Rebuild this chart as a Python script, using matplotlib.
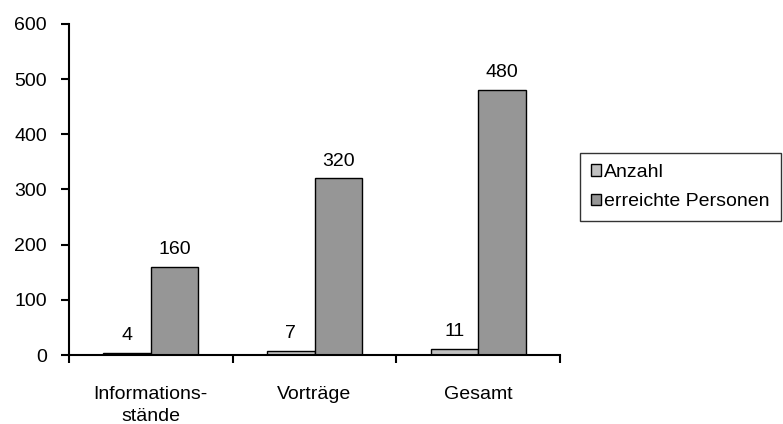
import numpy as np
import matplotlib.pyplot as plt

plt.rcParams['font.family'] = ['Liberation Sans', 'DejaVu Sans']

categories = ['Informations-\nstände', 'Vorträge', 'Gesamt']
anzahl = [4, 7, 11]
personen = [160, 320, 480]
yticks = [0, 100, 200, 300, 400, 500, 600]

W, H = 783, 424
fig = plt.figure(figsize=(W / 100, H / 100), dpi=100)
ax = fig.add_axes([69 / W, 1 - 355 / H, (560 - 69) / W, (355 - 24) / H])

fs = 14
x = np.arange(len(categories))
bw = 0.29
b1 = ax.bar(x - bw / 2, anzahl, bw, color='#c0c0c0', edgecolor='black', linewidth=1, label='Anzahl')
b2 = ax.bar(x + bw / 2, personen, bw, color='#969696', edgecolor='black', linewidth=1, label='erreichte Personen')

for xi, v in zip(x, anzahl):
    ax.text(xi - bw / 2, v + 16, str(v), ha='center', va='bottom', fontsize=fs)
for xi, v in zip(x, personen):
    ax.text(xi + bw / 2, v + 16, str(v), ha='center', va='bottom', fontsize=fs)

ax.set_xlim(-0.5, len(categories) - 0.5)
ax.set_ylim(0, 600)
ax.set_yticks(yticks)
ax.set_yticklabels([str(t) for t in yticks], fontsize=fs)
ax.set_xticks(x)
ax.set_xticklabels(categories, fontsize=fs, linespacing=1.45)
ax.tick_params(axis='x', length=0, pad=22)
ax.set_xticks(np.arange(len(categories) + 1) - 0.5, minor=True)
ax.tick_params(axis='x', which='minor', length=6, width=1.5, direction='out')
ax.tick_params(axis='y', length=6, width=1.5, direction='out', pad=10)
for s in ['top', 'right']:
    ax.spines[s].set_visible(False)
for s in ['left', 'bottom']:
    ax.spines[s].set_linewidth(1.5)

leg = fig.legend(handles=[b1, b2], loc='upper left', bbox_to_anchor=(580 / W, 1 - 153 / H),
                 frameon=True, fancybox=False, fontsize=fs, handlelength=0.55, handleheight=0.55,
                 handletextpad=0.15, borderpad=0.55, labelspacing=0.65, borderaxespad=0)
leg.get_frame().set_edgecolor('black')
leg.get_frame().set_linewidth(1)

fig.savefig('out.png', dpi=100)
